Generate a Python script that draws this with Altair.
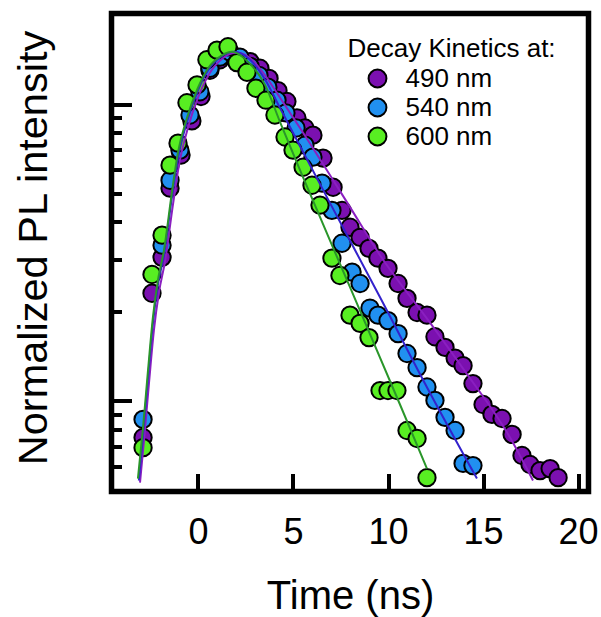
import altair as alt
import pandas as pd

FONT = "Liberation Sans"

series_names = ["490 nm", "540 nm", "600 nm"]
point_colors = ["#7B10B0", "#2190F0", "#58EE22"]
line_colors = ["#8A1FC0", "#3322CC", "#2A962A"]

# measured points
t_490 = [-2.89, -2.42, -1.89, -1.47, -0.89, -0.32, 0.16, 0.63, 1.16, 1.68,
         2.21, 2.74, 3.26, 3.74, 4.21, 4.68, 5.21, 5.63, 6.05, 6.58,
         7.11, 7.58, 8.0, 8.53, 9.0, 9.47, 10.0, 10.53, 11.0, 11.53,
         12.05, 12.47, 13.0, 13.53, 13.95, 14.47, 15.0, 15.47, 16.0, 16.53,
         17.05, 17.47, 18.0, 18.53, 18.95]
i_490 = [0.075, 0.230, 0.304, 0.520, 0.673, 0.877, 1.06, 1.30, 1.41, 1.46,
         1.43, 1.39, 1.32, 1.22, 1.11, 1.02, 0.897, 0.830, 0.785, 0.657,
         0.524, 0.438, 0.384, 0.355, 0.326, 0.302, 0.279, 0.248, 0.221, 0.198,
         0.194, 0.164, 0.151, 0.139, 0.131, 0.114, 0.0969, 0.0897, 0.0869, 0.0768,
         0.0652, 0.0608, 0.0580, 0.0589, 0.0549]

t_540 = [-2.89, -1.89, -1.47, -0.95, -0.42, 0.1, 0.63, 1.16, 1.68, 2.21,
         2.74, 3.21, 3.68, 4.16, 4.63, 5.16, 5.63, 6.05, 6.53, 7.05,
         7.58, 8.11, 8.53, 9.05, 9.47, 10.0, 10.53, 11.0, 11.53, 12.05,
         12.47, 13.0, 13.53, 13.95, 14.47]
i_540 = [0.0863, 0.334, 0.553, 0.699, 0.918, 1.10, 1.32, 1.44, 1.50, 1.44,
         1.34, 1.25, 1.14, 1.03, 0.933, 0.830, 0.727, 0.662, 0.541, 0.438,
         0.339, 0.271, 0.248, 0.205, 0.194, 0.186, 0.168, 0.144, 0.129, 0.111,
         0.100, 0.0877, 0.0792, 0.0613, 0.0603]

t_600 = [-2.89, -2.42, -1.89, -1.47, -1.05, -0.58, -0.05, 0.47, 1.0, 1.58,
         2.05, 2.58, 3.05, 3.58, 4.05, 4.58, 5.0, 5.53, 6.0, 6.42,
         7.05, 7.47, 8.0, 8.53, 9.0, 9.58, 10.0, 10.47, 11.0, 11.53, 12.05]
i_600 = [0.0693, 0.266, 0.361, 0.622, 0.738, 1.01, 1.16, 1.41, 1.52, 1.56,
         1.38, 1.28, 1.13, 1.03, 0.918, 0.774, 0.699, 0.612, 0.532, 0.456,
         0.302, 0.264, 0.194, 0.182, 0.163, 0.108, 0.108, 0.108, 0.0792, 0.0744, 0.0549]

# fitted curves
fit_t_490 = [-3.05, -2.84, -2.58, -2.32, -2.05, -1.74, -1.32, -1.0, -0.53, 0.0,
             0.58, 1.32, 2.0, 2.74, 3.53, 4.32, 5.37, 8.0, 9.58, 12.21,
             13.95, 16.42, 17.63]
fit_i_490 = [0.0528, 0.0733, 0.114, 0.172, 0.232, 0.293, 0.456, 0.622, 0.830, 1.05,
             1.26, 1.43, 1.49, 1.43, 1.25, 1.05, 0.830, 0.449, 0.309, 0.183,
             0.128, 0.075, 0.0537]
fit_t_540 = [-3.11, -2.89, -2.63, -2.37, -2.11, -1.79, -1.37, -1.05, -0.58, -0.05,
             0.53, 1.26, 1.89, 2.74, 3.53, 4.32, 6.95, 9.58, 12.21, 14.68]
fit_i_540 = [0.0537, 0.0762, 0.119, 0.182, 0.245, 0.309, 0.485, 0.657, 0.869, 1.09,
             1.30, 1.45, 1.50, 1.41, 1.21, 0.969, 0.463, 0.223, 0.106, 0.0545]
fit_t_600 = [-3.16, -2.89, -2.63, -2.37, -2.11, -1.79, -1.37, -1.05, -0.58, -0.05,
             0.53, 1.26, 1.79, 2.63, 3.53, 4.32, 5.37, 8.0, 10.63, 12.05]
fit_i_600 = [0.0545, 0.0811, 0.126, 0.191, 0.254, 0.321, 0.504, 0.688, 0.897, 1.115,
             1.32, 1.46, 1.50, 1.39, 1.16, 0.869, 0.598, 0.241, 0.0969, 0.0589]

x_ticks = [0, 5, 10, 15, 20]
y_major = [0.1, 1]
y_minor = [0.06, 0.07, 0.08, 0.09, 0.2, 0.3, 0.4, 0.5, 0.6, 0.7, 0.8, 0.9]

pts = pd.concat([
    pd.DataFrame({"t": t_490, "I": i_490, "series": "490 nm"}),
    pd.DataFrame({"t": t_540, "I": i_540, "series": "540 nm"}),
    pd.DataFrame({"t": t_600, "I": i_600, "series": "600 nm"}),
], ignore_index=True)
pts["k"] = range(len(pts))

fits = pd.concat([
    pd.DataFrame({"t": fit_t_490, "I": fit_i_490, "series": "490 nm"}),
    pd.DataFrame({"t": fit_t_540, "I": fit_i_540, "series": "540 nm"}),
    pd.DataFrame({"t": fit_t_600, "I": fit_i_600, "series": "600 nm"}),
], ignore_index=True)

x_scale = alt.Scale(domain=[-4.55, 20.55], nice=False, zero=False)
y_scale = alt.Scale(type="log", domain=[0.0493, 2.02], nice=False)

x_axis = alt.Axis(values=x_ticks, offset=-18, tickSize=18, tickWidth=4, tickColor="black",
                  domain=False, grid=False, labelFontSize=36, labelFont=FONT, labelColor="black",
                  labelBaseline="alphabetic", labelPadding=52,
                  title="Time (ns)", titleFontSize=40, titleFont=FONT, titleFontWeight="normal",
                  titleColor="black", titleBaseline="alphabetic", titleY=134.5)

y_axis_major = alt.Axis(values=y_major, orient="left", offset=-20, tickSize=20, tickWidth=4,
                        tickColor="black", domain=False, grid=False, labels=False,
                        title="Normalized PL intensity", titleFontSize=41.5, titleFont=FONT,
                        titleFontWeight="normal", titleColor="black", titleAngle=270,
                        titleBaseline="alphabetic", titleAlign="center", titleX=-85, titleY=234,
                        titleLimit=600)

y_axis_minor = alt.Axis(values=y_minor, orient="left", offset=-10, tickSize=10, tickWidth=4,
                        tickColor="black", domain=False, grid=False, labels=False, title="")

points = alt.Chart(pts).mark_circle(size=300, stroke="black", strokeWidth=2, opacity=1).encode(
    x=alt.X("t:Q", scale=x_scale, axis=x_axis),
    y=alt.Y("I:Q", scale=y_scale, axis=y_axis_major),
    color=alt.Color("series:N", scale=alt.Scale(domain=series_names, range=point_colors),
                    legend=alt.Legend(orient="none", legendX=236, legendY=22,
                                      title="Decay Kinetics at:", titleFontSize=26,
                                      titleFont=FONT, titleFontWeight="normal", titleColor="black",
                                      titlePadding=4, titleLimit=400,
                                      labelFontSize=26, labelFont=FONT, labelColor="black",
                                      labelLimit=300,
                                      labelOffset=15, symbolType="circle", symbolSize=320,
                                      symbolStrokeColor="black", symbolStrokeWidth=2,
                                      symbolOpacity=1, symbolOffset=17, rowPadding=3,
                                      padding=0)),
    order=alt.Order("k:Q"),
)

lines = alt.Chart(fits).mark_line(strokeWidth=2, interpolate="monotone").encode(
    x=alt.X("t:Q", scale=x_scale),
    y=alt.Y("I:Q", scale=y_scale, axis=y_axis_minor),
    color=alt.Color("series:N", scale=alt.Scale(domain=series_names, range=line_colors),
                    legend=None),
    detail="series:N",
)

chart = alt.layer(points, lines).resolve_scale(
    y="independent", color="independent"
).properties(
    width=477, height=478,
    padding={"left": 111.5, "top": 13.5, "right": 12.5, "bottom": 125.5},
    autosize=alt.AutoSizeParams(type="none"),
    background="white",
).configure_view(stroke="black", strokeWidth=5.5)

chart.save("out.html", embed_options={"renderer": "svg", "actions": False})
